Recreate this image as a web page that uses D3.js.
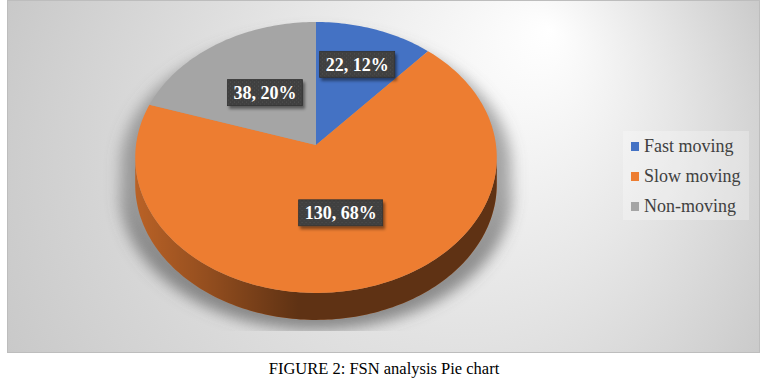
<!DOCTYPE html>
<html>
<head>
<meta charset="utf-8">
<script src="https://cdn.jsdelivr.net/npm/d3@7"></script>
<style>
    body { margin: 0; background: #fff; }
    svg { display: block; }
</style>
</head>
<body>
<div id="chart"></div>
<script>
// data
var categories = ["Fast moving", "Slow moving", "Non-moving"];
var values = [22, 130, 38];
var sliceColors = ["#4472C4", "#ED7D31", "#A5A5A5"];
var caption = "FIGURE 2: FSN analysis Pie chart";

function init() {
    var w = 768;
    var h = 385;

    // 3d pie settings (perspective tilt)
    var cx = 316, cy = 145;
    var rx = 180, ry = 134.3;
    var persp = 0.092;
    var depth = 27;
    var labelRadius = [0.68, 0.5, 0.5];

    var total = d3.sum(values);
    var color = d3.scaleOrdinal().domain(categories).range(sliceColors);

    var pie = d3.pie().sort(null).value(function (d) { return d.value; });
    var arcs = pie(categories.map(function (c, i) {
        return { name: c, value: values[i], idx: i };
    }));

    // project point on the disc: angle clockwise from 12 o'clock, f = radius fraction
    function proj(a, f) {
        var X = f * Math.sin(a), Z = f * Math.cos(a);
        var k = 1 + persp * Z;
        return [cx + rx * X / k, cy - ry * Z / k];
    }

    function rim(a0, a1, dy) {
        var n = Math.max(2, Math.ceil(Math.abs(a1 - a0) / 0.02));
        return d3.range(n + 1).map(function (i) {
            var p = proj(a0 + (a1 - a0) * i / n, 1);
            return [p[0], p[1] + dy];
        });
    }

    var line = d3.line();

    var svg = d3.select("#chart").append("svg")
        .attr("width", w)
        .attr("height", h);

    var defs = svg.append("defs");

    var bg = defs.append("radialGradient")
        .attr("id", "bg")
        .attr("gradientUnits", "userSpaceOnUse")
        .attr("cx", 380).attr("cy", 190).attr("r", 440)
        .attr("fx", 550).attr("fy", 30);
    bg.append("stop").attr("offset", 0).attr("stop-color", "#ffffff");
    bg.append("stop").attr("offset", 0.45).attr("stop-color", "#e6e6e6");
    bg.append("stop").attr("offset", 1).attr("stop-color", "#c6c6c6");

    var side = defs.append("linearGradient")
        .attr("id", "sideShade")
        .attr("gradientUnits", "userSpaceOnUse")
        .attr("x1", cx - rx).attr("x2", cx + rx)
        .attr("y1", 0).attr("y2", 0);
    side.append("stop").attr("offset", 0).attr("stop-color", "#000").attr("stop-opacity", 0.22);
    side.append("stop").attr("offset", 0.2).attr("stop-color", "#000").attr("stop-opacity", 0.38);
    side.append("stop").attr("offset", 0.45).attr("stop-color", "#000").attr("stop-opacity", 0.6);
    side.append("stop").attr("offset", 1).attr("stop-color", "#000").attr("stop-opacity", 0.6);

    var blur = defs.append("filter").attr("id", "pieShadow")
        .attr("x", "-20%").attr("y", "-20%").attr("width", "140%").attr("height", "140%");
    blur.append("feGaussianBlur").attr("stdDeviation", 7);

    var drop = defs.append("filter").attr("id", "boxShadow")
        .attr("x", "-20%").attr("y", "-30%").attr("width", "150%").attr("height", "180%");
    drop.append("feDropShadow")
        .attr("dx", 2).attr("dy", 3).attr("stdDeviation", 1.8)
        .attr("flood-color", "#000").attr("flood-opacity", 0.45);

    var dots = defs.append("pattern")
        .attr("id", "dots")
        .attr("patternUnits", "userSpaceOnUse")
        .attr("width", 4).attr("height", 4);
    dots.append("rect").attr("width", 4).attr("height", 4).attr("fill", "#3f3f3f");
    dots.append("rect").attr("x", 1).attr("y", 1).attr("width", 1).attr("height", 1).attr("fill", "#555");
    dots.append("rect").attr("x", 3).attr("y", 3).attr("width", 1).attr("height", 1).attr("fill", "#4b4b4b");

    defs.append("clipPath").attr("id", "shadowClip")
        .append("rect").attr("x", 0).attr("y", 0).attr("width", w).attr("height", 331);

    // chart area
    svg.append("rect")
        .attr("x", 7.5).attr("y", 0.5)
        .attr("width", 752).attr("height", 352)
        .attr("fill", "url(#bg)")
        .attr("stroke", "#bdbdbd");

    // silhouette edges of the disc
    var samples = d3.range(0, 2 * Math.PI, 0.002);
    var aRight = d3.greatest(samples, function (a) { return proj(a, 1)[0]; });
    var aLeft = d3.least(samples, function (a) { return proj(a, 1)[0]; });

    var sidePts = rim(aRight, aLeft, 0).concat(rim(aLeft, aRight, depth));

    // shadow
    var shadowG = svg.append("g")
        .attr("clip-path", "url(#shadowClip)")
        .append("g")
        .attr("filter", "url(#pieShadow)")
        .attr("transform", "translate(" + cx + ",206) scale(1.08,1.0) translate(" + (-cx) + ",-196)");
    shadowG.append("path")
        .attr("d", line(rim(0, 2 * Math.PI, 0)) + "Z")
        .attr("fill", "#6e6e6e").attr("opacity", 0.6);
    shadowG.append("path")
        .attr("d", line(sidePts) + "Z")
        .attr("fill", "#5a5a5a").attr("opacity", 0.65);

    // side wall, per slice where it faces the viewer
    var sideG = svg.append("g");
    arcs.forEach(function (d) {
        var a0 = Math.max(d.startAngle, aRight);
        var a1 = Math.min(d.endAngle, aLeft);
        if (a1 <= a0) return;
        var pts = rim(a0, a1, 0).concat(rim(a1, a0, depth));
        sideG.append("path")
            .attr("d", line(pts) + "Z")
            .attr("fill", color(d.data.name));
    });
    sideG.append("path")
        .attr("d", line(sidePts) + "Z")
        .attr("fill", "url(#sideShade)");

    // top face
    svg.append("g")
        .selectAll("path")
        .data(arcs)
        .enter()
        .append("path")
        .attr("d", function (d) {
            return line([[cx, cy]].concat(rim(d.startAngle, d.endAngle, 0))) + "Z";
        })
        .attr("fill", function (d) { return color(d.data.name); });

    // data labels
    var labels = svg.append("g")
        .selectAll("g")
        .data(arcs)
        .enter()
        .append("g")
        .attr("transform", function (d, i) {
            var p = proj((d.startAngle + d.endAngle) / 2, labelRadius[i]);
            return "translate(" + p[0] + "," + p[1] + ")";
        });

    labels.append("text")
        .attr("class", "lbl")
        .attr("text-anchor", "middle")
        .attr("dy", "0.35em")
        .attr("font-family", "'Liberation Serif', 'Times New Roman', serif")
        .attr("font-weight", "bold")
        .attr("font-size", 18)
        .attr("fill", "#fff")
        .text(function (d) {
            return d.value + ", " + Math.round(d.value / total * 100) + "%";
        });

    labels.each(function () {
        var g = d3.select(this);
        var bb = g.select("text").node().getBBox();
        g.insert("rect", "text")
            .attr("x", bb.x - 6).attr("y", -13)
            .attr("width", bb.width + 12).attr("height", 26)
            .attr("fill", "url(#dots)")
            .attr("stroke", "#333")
            .attr("stroke-width", 0.8)
            .attr("filter", "url(#boxShadow)");
    });

    // legend
    var legend = svg.append("g").attr("transform", "translate(623,131)");
    legend.append("rect")
        .attr("width", 126).attr("height", 89)
        .attr("fill", "#fff").attr("opacity", 0.28);

    var items = legend.selectAll("g.item")
        .data(categories)
        .enter()
        .append("g")
        .attr("class", "item")
        .attr("transform", function (d, i) { return "translate(8," + (11 + i * 30) + ")"; });

    items.append("rect")
        .attr("width", 8).attr("height", 9)
        .attr("fill", function (d) { return color(d); });

    items.append("text")
        .attr("x", 13).attr("y", 9.5)
        .attr("font-family", "'Liberation Serif', 'Times New Roman', serif")
        .attr("font-size", 18)
        .attr("fill", "#404040")
        .text(function (d) { return d; });

    // caption
    svg.append("text")
        .attr("x", 384).attr("y", 374)
        .attr("text-anchor", "middle")
        .attr("font-family", "'Liberation Serif', 'Times New Roman', serif")
        .attr("font-size", 16.5)
        .attr("fill", "#000")
        .text(caption);
}
window.onload = init;
</script>
</body>
</html>
